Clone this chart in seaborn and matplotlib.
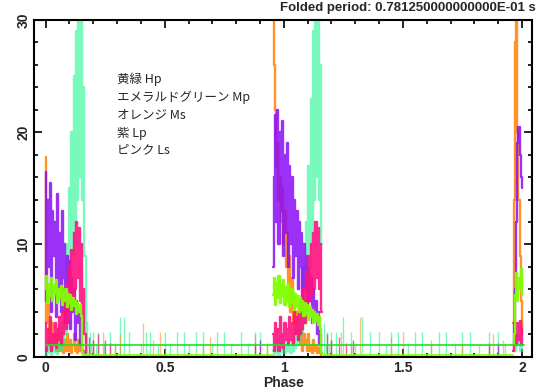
import numpy as np
import pandas as pd
import matplotlib
matplotlib.use("Agg")
import matplotlib.pyplot as plt
import seaborn as sns
from matplotlib.ticker import MultipleLocator

# ---------------- data ----------------
BIN = 0.005
pulse_starts = [0.0, 0.955, 1.962]

# orange  (Ms)
orange_A = [17.8, 3, 6, 1, 2.5, 0.5, 3, 1, 2, 0.5, 1.5, 2.5, 0.5, 1, 2, 0.3, 1.5, 0.5,
            2, 1, 0.5, 1.5, 0.3, 1, 2, 0.5, 1, 0.3, 1.5, 0.5, 1, 0.3, 0.5, 0]
orange_B = [30, 26, 22, 17, 19, 14, 16, 12, 15, 10, 13, 8, 11, 6, 9, 4, 7, 3, 5, 2, 4,
            1.5, 3, 1, 2.5, 0.5, 2, 1, 1.5, 0.5, 2, 0.5, 1, 0.3, 1.5, 0.5, 1, 0.3, 0.8, 0.3, 0.5, 0]
orange_C = [3, 14, 28, 30, 20, 14, 9, 5, 2]

# emerald green (Mp)
emerald_A = [0.5, 0, 1, 0.3, 0.8, 0, 1.2, 0.4, 0.6, 1, 0.2, 0.8, 1.5, 0.5, 3, 1, 6, 2,
             10, 4, 15, 6, 20, 9, 25, 12, 29, 14, 31, 16, 30, 14, 24, 9, 1]
emerald_B = [0.5, 0, 1, 0.3, 0.8, 0, 1.2, 0.4, 0.6, 1, 0.3, 0.8, 1.2, 0.5, 1, 0.3, 1.5,
             0.5, 2, 0.8, 2.5, 1, 3, 1.5, 5, 2, 8, 3, 12, 5, 17, 8, 23, 11, 29, 14, 31, 16,
             30, 14, 26, 10]
emerald_C = [0.5, 1.5, 0.5, 2, 1, 1.8, 0.5, 1, 0.5]

# purple (Lp)
purple_A = [16.5, 5, 14, 8, 15.5, 4, 13, 9, 12, 3.5, 14.5, 6, 11, 4, 13, 7, 10, 3, 9, 5,
            8.5, 2.5, 7, 4, 6, 1.5, 5, 3, 4, 1, 3, 0.5, 0.3, 0]
purple_B = [8, 16, 21.5, 12, 22, 10, 20, 13, 21, 9, 18, 11, 19, 8, 17, 10, 16, 7, 14, 9,
            13, 6, 12, 8, 11, 5, 10, 6, 9, 4, 8, 5, 7, 3, 6, 4, 5, 2, 4, 1, 2, 0.3]
purple_C = [1, 3, 6, 12, 19, 20.5, 18, 16, 15]

# pink (Ls)
pink_A = [3, 0.5, 2.5, 1, 3.5, 0.5, 2, 1, 3, 0.8, 2.5, 1.5, 3.5, 1, 4, 2, 5, 2.5, 6.5,
          3, 8, 4, 9.5, 5, 11, 6, 12, 7, 11.5, 5, 10, 3, 6, 2, 0.3]
pink_B = [2, 0.5, 3, 1, 2.5, 0.5, 3.5, 1, 2, 0.8, 3, 1.5, 2.5, 1, 3.5, 1.5, 3, 1, 4, 2,
          3.5, 1.5, 4.5, 2, 5, 2.5, 6, 3, 7.5, 4, 9, 5, 10, 5.5, 11, 6, 12, 7, 11.5, 6, 10, 4]
pink_C = [0.5, 1, 2, 1, 3, 1.5, 3.2, 1, 2.5]

# yellow-green (Hp)
lime_A = [6, 7.2, 4.8, 6.5, 5.4, 7, 5, 6.4, 5.6, 6.8, 4.8, 6, 5.2, 6.3, 4.6, 5.8, 5, 6,
          4.4, 5.6, 4.8, 5.5, 4.2, 5.2, 4.5, 5, 3.8, 4.8, 4, 4.6, 3.6, 0.4, 0.2, 0.1]
lime_B = [5.5, 7, 4.6, 6.6, 5.2, 7.2, 4.8, 6.4, 5.4, 6.8, 4.6, 6.2, 5, 6.5, 4.4, 6, 4.8,
          5.8, 4.2, 5.6, 4.5, 5.4, 4, 5.2, 4.2, 5, 3.6, 4.8, 3.8, 4.6, 3.3, 4.4, 3.5, 4.2,
          3, 4, 3.2, 3.8, 2.8, 3.5, 2.5, 0.3]
lime_C = [1, 2, 5.5, 7.5, 5, 7, 6, 7.8, 5.5]
lime_off_phase = [[0.17, 0.955], [1.165, 1.962]]
lime_off_level = 0.15

# reference level line
ref_phase = [0.0, 2.01]
ref_level = [1.0, 1.0]

# isolated off-pulse spikes
emerald_spike_phase = [0.175, 0.18, 0.185, 0.19, 0.2, 0.21, 0.22, 0.245, 0.27, 0.29, 0.31,
                       0.33, 0.35, 0.4, 0.42, 0.44, 0.47, 0.5, 0.52, 0.55, 0.58, 0.6, 0.63,
                       0.66, 0.7, 0.72, 0.75, 0.78, 0.82, 0.85, 0.88, 0.9, 0.93,
                       1.17, 1.175, 1.18, 1.19, 1.2, 1.22, 1.25, 1.28, 1.3, 1.33, 1.36, 1.4,
                       1.43, 1.45, 1.48, 1.52, 1.55, 1.58, 1.62, 1.65, 1.68, 1.72, 1.75,
                       1.78, 1.82, 1.86, 1.9, 1.93]
emerald_spike_height = [3.2, 1.0, 2.2, 1.2, 2.2, 1.0, 2.2, 1.2, 2.2, 1.0, 3.5,
                        3.5, 2.2, 1.2, 2.2, 2.2, 1.0, 2.2, 1.2, 2.2, 2.2, 1.0, 2.2,
                        2.2, 1.2, 2.2, 2.2, 1.0, 2.2, 1.2, 2.2, 2.2, 1.0,
                        3.0, 1.0, 2.2, 1.2, 2.2, 2.2, 3.5, 2.2, 1.2, 3.5, 2.2, 2.2,
                        1.0, 2.2, 2.2, 1.2, 2.2, 2.2, 1.0, 2.2, 2.2, 1.2, 2.2,
                        2.2, 1.0, 2.2, 2.2, 1.2]
orange_spike_phase = [0.2, 0.24, 0.29, 0.31, 0.41, 0.45, 0.48, 0.66, 0.69, 0.88, 0.93,
                      1.2, 1.24, 1.28, 1.32, 1.45, 1.5, 1.62, 1.75, 1.88, 1.92]
orange_spike_height = [1.5, 2.2, 1.2, 2.0, 3.0, 1.5, 2.2, 1.2, 1.8, 2.0, 1.2,
                       1.5, 2.2, 1.2, 3.5, 1.8, 2.2, 1.5, 1.2, 2.0, 1.5]
pink_spike_phase = [0.18, 0.2, 0.22, 0.25, 0.27, 0.88, 1.18, 1.2, 1.23, 1.26, 1.29, 1.86]
pink_spike_height = [1.8, 1.5, 2.0, 1.5, 1.2, 1.2, 2.0, 1.5, 1.8, 1.2, 1.5, 1.2]
purple_spike_phase = [0.9, 1.9]
purple_spike_height = [1.5, 1.2]

title_text = "Folded period: 0.781250000000000E-01 s"
x_label = "Phase"
legend_lines = ["黄緑 Hp", "エメラルドグリーン Mp", "オレンジ Ms", "紫 Lp", "ピンク Ls"]

# ---------------- build table ----------------
series = {
    "orange": (orange_A, orange_B, orange_C),
    "emerald": (emerald_A, emerald_B, emerald_C),
    "purple": (purple_A, purple_B, purple_C),
    "pink": (pink_A, pink_B, pink_C),
    "lime": (lime_A, lime_B, lime_C),
}
rows = []
for name, pulses in series.items():
    for seg, (start, vals) in enumerate(zip(pulse_starts, pulses)):
        for i, v in enumerate(vals):
            rows.append((name, seg, start + BIN * i, v))
df = pd.DataFrame(rows, columns=["series", "segment", "phase", "rate"])

colors = {"orange": "#ff8000", "emerald": "#20f890", "purple": "#8a0cf5",
          "pink": "#ff1080", "lime": "#80ff00"}
alphas = {"orange": 0.85, "emerald": 0.6, "purple": 0.85, "pink": 0.9, "lime": 0.95}

# ---------------- plot ----------------
sns.set_theme(style="ticks")
plt.rcParams["font.family"] = ["Liberation Sans", "DejaVu Sans"]

fig = plt.figure(figsize=(5.37, 3.91), dpi=100)
ax = fig.add_axes([0.0642, 0.0877, 0.9265, 0.8611])

# spikes behind
ax.vlines(emerald_spike_phase, 0, emerald_spike_height, color=colors["emerald"], lw=1, alpha=0.6)
ax.vlines(orange_spike_phase, 0, orange_spike_height, color=colors["orange"], lw=1, alpha=0.5)
ax.vlines(pink_spike_phase, 0, pink_spike_height, color=colors["pink"], lw=1, alpha=0.7)
ax.vlines(purple_spike_phase, 0, purple_spike_height, color=colors["purple"], lw=1, alpha=0.7)

for name in ["orange", "emerald", "purple", "pink", "lime"]:
    sub = df[df["series"] == name]
    sns.lineplot(data=sub, x="phase", y="rate", units="segment", estimator=None,
                 color=colors[name], alpha=alphas[name], lw=1.7,
                 drawstyle="steps-mid", ax=ax, legend=False)

for seg in lime_off_phase:
    ax.plot(seg, [lime_off_level, lime_off_level], color=colors["lime"], lw=1.2)

ax.plot(ref_phase, ref_level, color="#22e022", lw=1.2)

ax.set_xlim(-0.047, 2.042)
ax.set_ylim(0, 30)
ax.xaxis.set_major_locator(MultipleLocator(0.5))
ax.xaxis.set_minor_locator(MultipleLocator(0.1))
ax.yaxis.set_major_locator(MultipleLocator(10))
ax.yaxis.set_minor_locator(MultipleLocator(2))
ax.set_xticks([0, 0.5, 1, 1.5, 2])
ax.set_xticklabels(["0", "0.5", "1", "1.5", "2"])
ax.tick_params(which="both", direction="in", top=True, right=True, width=1.2, color="black")
ax.tick_params(which="major", length=6)
ax.tick_params(which="minor", length=3)
ax.tick_params(axis="x", which="major", labelsize=10, pad=3)
ax.tick_params(axis="y", which="major", labelsize=10, pad=3)
for lbl in ax.get_xticklabels():
    lbl.set_fontweight("bold")
for lbl in ax.get_yticklabels():
    lbl.set_fontweight("bold")
    lbl.set_rotation(90)
    lbl.set_va("center")
for sp in ax.spines.values():
    sp.set_linewidth(1.5)
    sp.set_color("black")

ax.set_xlabel(x_label, fontsize=10, fontweight="bold", labelpad=1)
ax.set_ylabel("")

fig.text(0.997, 1 - 8 / 391, title_text, ha="right", va="center",
         fontsize=9.5, fontweight="bold")

ys = [79, 97, 115, 133, 150]
for txt, yp in zip(legend_lines, ys):
    fig.text(117 / 537, 1 - yp / 391, txt, ha="left", va="center", fontsize=9,
             family=["Noto Sans CJK JP", "DejaVu Sans"])

fig.savefig("out.png", dpi=100)
